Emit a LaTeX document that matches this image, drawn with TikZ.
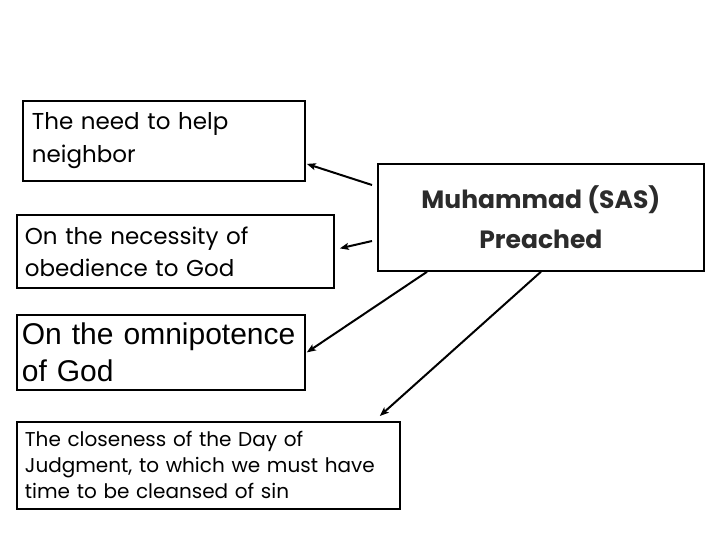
\documentclass[tikz,border=0pt]{standalone}
\usepackage{fontspec}
\setmainfont{Poppins}
\newfontfamily\arialfont{Liberation Sans}
\usetikzlibrary{arrows.meta}
\definecolor{headgray}{HTML}{2B2B2B}

\begin{document}
\begin{tikzpicture}[x=1pt,y=-1pt,->,>={Stealth[length=9pt,width=7pt,inset=2pt]},thick,
  topic node/.style={rectangle,draw,line width=1.8pt,anchor=north west,align=left,inner ysep=0pt},
  main node/.style={rectangle,draw,line width=1.8pt,anchor=north west,align=center,text=headgray},
  link/.style={line width=2pt}]
  \useasboundingbox (0,0) rectangle (720,540);

  \node[main node,minimum width=326pt,minimum height=107pt,
    font=\fontsize{25}{40}\selectfont\bfseries] (main) at (377,163) {Muhammad (SAS)\\ Preached};

  \node[topic node,text width=264pt,inner xsep=9pt,minimum height=80pt,
    font=\fontsize{23}{33}\selectfont] (need) at (22,100) {The need to help\\ neighbor};
  \node[topic node,text width=301pt,inner xsep=8pt,minimum height=73pt,
    font=\fontsize{23}{32}\selectfont] (obey) at (16,214) {On the necessity of\\ obedience to God};
  \node[topic node,text width=278pt,inner xsep=5pt,minimum height=75pt,
    font=\arialfont\fontsize{30}{37}\selectfont] (omni) at (16,314) {On the omnipotence\\ of God};
  \node[topic node,text width=367pt,inner xsep=8pt,minimum height=87pt,
    font=\fontsize{20}{26}\selectfont] (judg) at (16,421)
    {The closeness of the Day of\\ Judgment, to which we must have\\ time to be cleansed of sin};

  \coordinate (m1) at (372,185);
  \coordinate (m2) at (372,241);

  \path[link]
    (m1) edge ([yshift=-23pt,xshift=1pt]need.east)
    (m2) edge ([xshift=5pt,yshift=3pt]obey.east)
    ([xshift=50pt]main.south west) edge ([xshift=1pt]omni.east)
    (main.south) edge ([xshift=-21pt,yshift=5pt]judg.north east);
\end{tikzpicture}
\end{document}
